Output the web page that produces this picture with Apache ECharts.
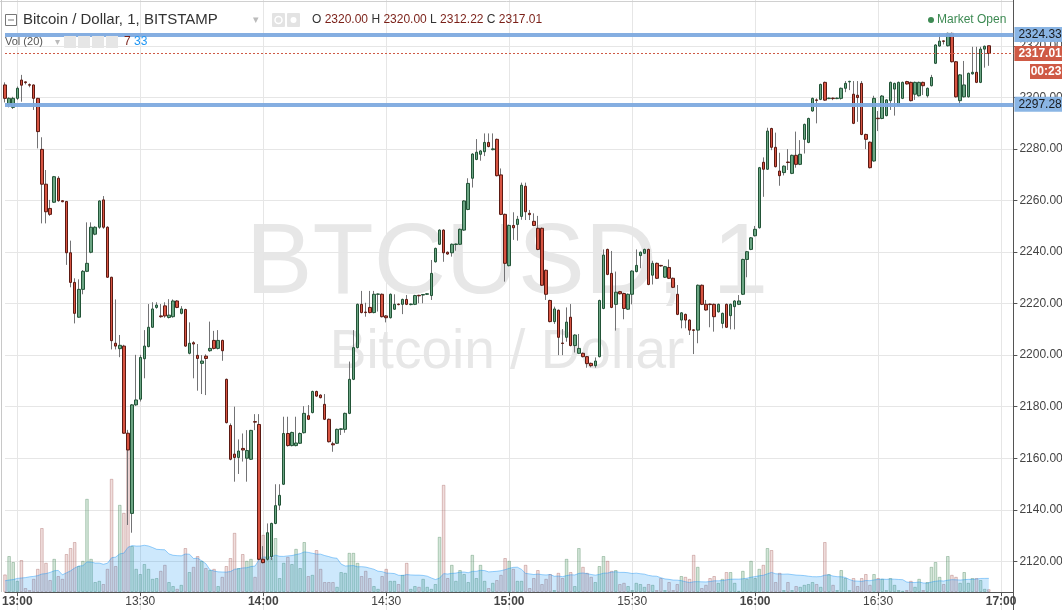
<!DOCTYPE html>
<html><head><meta charset="utf-8">
<script src="https://cdn.jsdelivr.net/npm/echarts@6/dist/echarts.min.js"></script>
<style>html,body{margin:0;padding:0;background:#fff}#c{width:1062px;height:610px}</style>
</head><body><div id="c"></div>
<script>
// ---- data (1-minute candles, BTC/USD Bitstamp, 12:57 -> 16:57) ----
const startMinute = 12 * 60 + 57;   // first candle 12:57
const slotCount = 247;              // axis slots incl. empty space on the right
const tickTimes = ['13:00','13:30','14:00','14:30','15:00','15:30','16:00','16:30','17:00'];
const priceTicks = [2100, 2340, 20]; // min, max, step of the price axis

const open = [
2304.8,2297.3,2296.1,2299.6,2306.7,2306.0,2304.9,2304.8,2299.6,2279.8,
2266.3,2256.9,2259.3,2268.6,2259.9,2259.6,2239.7,2228.2,2214.7,2225.5,
2232.5,2239.9,2246.9,2249.6,2260.2,2249.6,2230.2,2204.6,2202.5,2203.5,
2169.7,2138.6,2180.7,2182.9,2198.6,2203.3,2210.8,2218.5,2215.2,2219.1,
2214.6,2214.9,2221.0,2216.2,2217.7,2200.7,2204.8,2199.9,2196.8,2199.6,
2201.7,2205.7,2202.6,2205.7,2190.6,2172.7,2161.6,2160.3,2163.8,2160.0,
2159.6,2174.2,2173.1,2120.8,2120.8,2121.8,2134.7,2141.8,2149.9,2169.6,
2164.9,2164.9,2165.8,2169.9,2176.5,2177.7,2185.9,2184.5,2180.9,2175.1,
2165.6,2165.8,2171.2,2171.2,2177.4,2190.6,2202.9,2219.7,2216.7,2218.5,
2216.5,2223.6,2223.6,2215.2,2214.5,2217.8,2219.8,2219.7,2221.6,2219.6,
2219.7,2223.2,2223.3,2223.6,2223.1,2236.2,2243.0,2248.5,2239.9,2239.7,
2242.9,2243.0,2248.5,2256.5,2268.6,2275.9,2277.9,2278.9,2282.5,2279.7,
2283.7,2269.9,2254.6,2234.7,2250.3,2250.7,2253.8,2265.5,2255.0,2251.9,
2249.2,2249.2,2232.9,2221.2,2213.0,2217.4,2204.7,2206.9,2214.7,2203.7,
2200.7,2200.7,2199.4,2196.8,2195.9,2199.4,2218.1,2241.0,2231.7,2219.7,
2224.6,2223.9,2217.8,2223.6,2232.4,2238.6,2239.5,2241.0,2231.0,2235.6,
2234.8,2230.2,2234.0,2229.8,2223.6,2213.6,2215.8,2213.6,2209.8,2209.7,
2227.1,2219.7,2219.8,2219.7,2216.8,2212.3,2219.7,2215.3,2218.8,2219.7,
2223.6,2237.1,2241.0,2246.3,2249.4,2274.8,2272.1,2287.9,2280.6,2271.4,
2270.8,2274.9,2270.5,2277.5,2274.0,2283.7,2282.5,2294.7,2299.0,2299.2,
2305.8,2299.5,2299.7,2299.5,2299.6,2303.5,2306.0,2301.2,2300.8,2305.4,
2285.6,2282.6,2275.3,2291.9,2291.8,2292.9,2298.7,2303.2,2296.8,2299.6,
2306.1,2305.8,2301.2,2300.6,2305.8,2300.6,2304.5,2313.2,2319.9,2321.9,
2320.0,2324.8,2313.8,2298.7,2300.2,2300.2,2309.1,2309.7,2305.8,2318.7,2320.00];

const close = [
2299.6,2299.6,2299.6,2303.5,2304.7,2305.7,2304.7,2299.6,2286.7,2266.3,
2255.6,2254.6,2269.2,2259.9,2259.5,2239.7,2228.2,2216.2,2225.5,2232.5,
2235.6,2249.6,2249.6,2259.8,2249.6,2230.2,2205.6,2203.5,2203.8,2169.7,
2163.2,2180.7,2182.6,2199.1,2203.5,2210.8,2217.9,2219.4,2214.9,2215.2,
2215.5,2221.0,2218.5,2217.9,2203.5,2204.6,2204.3,2198.7,2197.7,2198.7,
2202.6,2202.6,2205.7,2201.7,2173.8,2159.6,2160.3,2162.8,2163.2,2163.0,
2170.8,2174.0,2120.8,2119.5,2131.1,2134.7,2141.6,2145.6,2169.6,2164.9,
2170.0,2165.9,2169.6,2177.4,2175.1,2185.9,2184.1,2183.5,2175.1,2166.4,
2165.2,2171.2,2171.4,2177.4,2190.6,2202.9,2219.7,2216.5,2216.5,2216.5,
2223.6,2223.7,2214.9,2214.5,2223.6,2219.7,2219.6,2221.6,2219.7,2219.8,
2223.1,2223.0,2223.5,2223.8,2231.7,2241.4,2248.5,2239.7,2239.2,2243.0,
2243.1,2248.8,2259.8,2266.6,2278.0,2278.7,2279.2,2282.5,2280.9,2280.0,
2269.6,2254.6,2235.6,2250.3,2249.4,2252.7,2265.9,2255.6,2254.5,2250.3,
2241.0,2227.1,2223.6,2213.0,2217.9,2206.9,2204.5,2212.8,2203.7,2207.8,
2202.6,2199.4,2196.7,2195.9,2197.7,2221.2,2238.8,2231.3,2218.5,2224.4,
2223.8,2218.1,2223.6,2232.6,2234.8,2239.9,2241.0,2227.4,2235.6,2229.8,
2234.6,2234.3,2229.8,2226.3,2215.8,2216.4,2213.6,2209.7,2209.6,2227.1,
2219.7,2217.5,2219.6,2214.9,2219.7,2216.2,2210.8,2219.7,2221.0,2221.0,
2237.1,2240.1,2245.5,2248.8,2272.7,2272.1,2286.9,2280.6,2273.1,2269.6,
2273.3,2274.7,2277.5,2274.0,2277.9,2289.5,2291.8,2299.6,2298.8,2305.0,
2298.9,2299.7,2299.5,2299.7,2303.5,2305.4,2306.2,2289.9,2299.9,2285.6,
2283.7,2272.7,2299.6,2291.7,2300.5,2299.0,2305.8,2305.4,2305.8,2305.8,
2305.2,2298.7,2305.8,2305.8,2304.5,2303.5,2307.7,2320.3,2321.8,2321.7,
2324.8,2313.8,2300.2,2308.7,2304.8,2309.3,2309.7,2305.8,2318.7,2319.8,2317.01];

const high = [
2305.8,2300.0,2300.2,2304.2,2308.7,2306.1,2305.4,2305.0,2299.8,2284.5,
2271.8,2260.2,2269.5,2269.4,2260.0,2259.8,2244.4,2229.8,2229.4,2233.0,
2251.5,2251.5,2250.0,2260.0,2261.7,2250.0,2230.4,2221.6,2207.8,2204.0,
2171.0,2181.0,2200.1,2200.1,2209.7,2219.8,2220.5,2220.5,2219.8,2220.5,
2221.7,2221.6,2221.3,2219.0,2218.0,2212.7,2205.4,2204.3,2200.0,2200.3,
2213.0,2209.4,2209.7,2206.0,2190.9,2173.5,2180.0,2167.3,2169.6,2170.9,
2171.0,2177.1,2177.1,2125.9,2134.7,2135.0,2149.9,2149.9,2176.1,2176.1,
2170.3,2176.1,2170.0,2180.2,2180.6,2186.2,2186.2,2184.8,2184.9,2175.4,
2166.4,2171.5,2171.6,2177.7,2197.5,2209.7,2220.0,2224.9,2220.3,2224.9,
2224.9,2223.9,2223.9,2215.5,2223.9,2223.6,2220.0,2221.9,2223.3,2220.0,
2223.4,2223.4,2223.7,2224.0,2236.9,2241.7,2248.8,2248.8,2240.2,2243.3,
2243.3,2249.1,2260.1,2268.6,2278.3,2283.8,2279.5,2286.0,2286.0,2286.0,
2284.0,2272.4,2254.9,2250.6,2255.4,2254.0,2266.9,2266.9,2256.3,2255.0,
2254.0,2249.5,2233.2,2221.5,2218.8,2217.7,2210.1,2218.5,2219.8,2208.1,
2208.2,2201.0,2199.7,2197.1,2199.1,2221.5,2241.0,2241.3,2240.4,2232.4,
2224.9,2224.2,2223.9,2232.9,2241.0,2240.2,2241.3,2241.3,2236.6,2235.9,
2235.0,2234.6,2237.1,2230.1,2227.2,2216.7,2216.1,2213.9,2210.0,2227.4,
2227.4,2221.4,2220.0,2220.0,2220.0,2216.5,2220.0,2220.0,2221.3,2223.3,
2237.4,2240.4,2245.8,2250.1,2273.0,2276.7,2288.2,2288.2,2286.3,2278.5,
2273.6,2279.9,2277.8,2286.7,2283.4,2289.8,2292.1,2299.9,2299.6,2305.3,
2306.1,2299.9,2299.9,2299.9,2303.8,2306.3,2306.4,2306.3,2306.3,2306.3,
2285.9,2282.9,2300.6,2294.7,2300.9,2299.3,2306.1,2305.7,2306.1,2306.1,
2306.4,2306.1,2306.1,2306.1,2306.1,2303.8,2308.7,2320.6,2324.8,2322.0,
2325.1,2325.1,2314.1,2309.0,2314.1,2309.6,2319.6,2319.6,2319.6,2320.1,2320.00];

const low = [
2298.0,2296.1,2295.5,2299.0,2298.3,2305.0,2303.9,2295.1,2280.2,2251.1,
2251.1,2254.0,2259.0,2259.5,2259.3,2235.0,2226.3,2212.3,2214.5,2223.6,
2232.2,2239.5,2246.5,2249.0,2249.0,2230.0,2202.2,2202.2,2199.2,2169.5,
2134.1,2131.1,2180.3,2182.0,2191.0,2203.0,2210.5,2218.0,2214.5,2214.5,
2214.2,2214.5,2218.2,2215.8,2203.2,2200.3,2191.0,2186.2,2184.9,2184.5,
2201.3,2202.2,2202.2,2197.8,2173.5,2159.2,2150.9,2153.9,2158.7,2150.9,
2159.3,2170.9,2120.5,2119.2,2120.3,2120.5,2134.4,2139.9,2149.6,2164.5,
2164.6,2164.6,2165.5,2169.6,2174.8,2177.4,2183.8,2183.2,2174.8,2166.1,
2162.5,2165.5,2169.0,2169.9,2177.1,2190.3,2202.6,2216.2,2214.9,2216.2,
2216.2,2216.9,2214.6,2212.7,2214.2,2217.5,2219.3,2215.9,2219.4,2219.3,
2219.4,2220.1,2220.1,2223.3,2221.4,2235.9,2242.7,2236.2,2238.9,2238.2,
2240.5,2242.7,2248.2,2256.2,2265.0,2275.6,2275.4,2277.2,2280.6,2279.4,
2269.3,2254.3,2228.5,2234.4,2244.7,2244.4,2252.5,2252.4,2252.4,2250.0,
2240.7,2226.8,2221.4,2212.7,2212.1,2200.0,2200.0,2205.2,2203.4,2201.0,
2200.4,2199.1,2195.1,2195.3,2195.1,2199.1,2217.8,2231.0,2218.2,2209.5,
2223.5,2213.9,2217.5,2219.7,2232.1,2233.7,2239.2,2227.1,2227.4,2229.5,
2234.3,2229.9,2229.5,2226.0,2215.5,2210.4,2210.4,2207.8,2200.4,2204.6,
2219.4,2217.2,2210.8,2209.1,2216.5,2210.4,2210.5,2210.0,2210.0,2219.4,
2223.3,2230.2,2240.7,2246.0,2249.1,2261.4,2271.8,2279.5,2272.8,2265.7,
2269.7,2271.8,2270.2,2272.7,2273.7,2278.2,2282.2,2294.4,2289.9,2298.9,
2298.6,2299.3,2298.9,2299.3,2299.1,2302.0,2302.8,2289.6,2290.5,2285.3,
2279.9,2272.4,2275.0,2286.9,2291.5,2292.6,2295.1,2292.9,2296.5,2299.3,
2304.9,2298.4,2299.0,2300.3,2300.9,2299.9,2304.2,2312.9,2319.6,2320.5,
2319.7,2313.5,2299.9,2296.8,2299.9,2299.9,2308.8,2305.5,2305.5,2311.5,2312.22];

const volume = [
44,90,75,28,80,10,5,33,58,160,
73,30,83,40,33,95,110,125,65,78,
233,83,25,28,20,58,283,65,218,198,
365,115,58,45,70,58,33,35,53,68,
25,15,8,18,110,50,63,90,78,60,
55,58,15,38,65,85,148,60,95,78,
83,38,340,143,90,85,135,35,73,88,
70,108,60,125,40,43,105,58,25,25,
25,13,50,48,98,98,73,40,53,35,
15,8,40,58,28,28,20,43,73,8,
15,13,33,13,8,20,138,268,35,68,
28,55,45,25,93,35,68,28,10,23,
30,43,85,78,58,28,28,68,10,35,
55,20,33,45,5,48,35,83,50,15,
110,63,48,38,25,65,90,78,53,55,
20,23,15,5,23,20,13,20,18,5,
35,5,25,5,20,40,38,33,93,63,
10,18,35,40,23,33,50,50,23,3,
53,33,78,35,58,68,110,105,25,48,
5,25,5,15,13,18,20,25,20,13,
125,45,18,5,55,35,5,35,15,35,
45,18,45,35,33,5,35,18,5,3,
5,28,13,33,5,25,63,75,38,20,
90,43,38,23,50,23,35,35,30,8,7];

// Vol MA(20) for the first 19 minutes (window reaches before the visible range)
const volMaHead = [28,30,31,34,35,36,38,39,41,45,46,49,53,54,43,48,53,60,65];
const maPeriod = 20;

const levelLines = [2324.33, 2297.28];
const lastPrice = 2317.01;
const countdown = '00:23';

// ---- build ----
const categories = [];
for (let k = 0; k < slotCount; k++) {
  const m = startMinute + k;
  categories.push(String(Math.floor(m / 60)).padStart(2, '0') + ':' + String(m % 60).padStart(2, '0'));
}
const wickData = open.map((o, i) => [o, close[i], low[i], high[i]]);
const bodyData = open.map((o, i) => [o, close[i], Math.min(o, close[i]), Math.max(o, close[i])]);
const volData = volume.map((v, i) => ({
  value: v,
  itemStyle: close[i] >= open[i]
    ? { color: 'rgba(107,170,125,0.3)', borderColor: 'rgba(70,130,85,0.35)', borderWidth: 1 }
    : { color: 'rgba(185,105,100,0.22)', borderColor: 'rgba(160,90,85,0.35)', borderWidth: 1 }
}));
const volMa = volume.map((v, i) => {
  if (i < maPeriod - 1) return volMaHead[i];
  let s = 0; for (let k = i - maPeriod + 1; k <= i; k++) s += volume[k];
  return +(s / maPeriod).toFixed(1);
});
const isTick = (idx, val) => tickTimes.indexOf(val) >= 0;
const FONT = "'Liberation Sans', Arial, sans-serif";

const chart = echarts.init(document.getElementById('c'), null, { renderer: 'canvas', width: 1062, height: 610 });

const graphics = [
  // watermark
  { type: 'text', x: 507, y: 265, z: 0, silent: true,
    style: { text: 'BTCUSD, 1', fill: '#e7e7e7', font: '100px ' + FONT, align: 'center', verticalAlign: 'middle' } },
  { type: 'text', x: 507, y: 353, z: 0, silent: true,
    style: { text: 'Bitcoin / Dollar', fill: '#e7e7e7', font: '55px ' + FONT, align: 'center', verticalAlign: 'middle' } },
  // panel borders
  { type: 'line', z: 5, shape: { x1: 0, y1: 1.5, x2: 1013, y2: 1.5 }, style: { stroke: '#d0d0d0', lineWidth: 1 } },
  { type: 'line', z: 5, shape: { x1: 1.5, y1: 0, x2: 1.5, y2: 592 }, style: { stroke: '#c8c8c8', lineWidth: 1 } },
  // header line 1
  { type: 'rect', z: 20, shape: { x: 5.5, y: 14.5, width: 11, height: 11 }, style: { fill: '#fff', stroke: '#777', lineWidth: 1 } },
  { type: 'line', z: 21, shape: { x1: 8, y1: 20, x2: 14, y2: 20 }, style: { stroke: '#777', lineWidth: 1 } },
  { type: 'text', x: 23, y: 20, z: 20, style: { text: 'Bitcoin / Dollar, 1, BITSTAMP', fill: '#333', font: '15px ' + FONT, verticalAlign: 'middle' } },
  { type: 'text', x: 253, y: 20, z: 20, style: { text: '▾', fill: '#bbb', font: '11px ' + FONT, verticalAlign: 'middle' } },
  { type: 'rect', z: 20, shape: { x: 272, y: 13, width: 13, height: 14, r: 1 }, style: { fill: '#e3e3e3' } },
  { type: 'circle', z: 21, shape: { cx: 278.5, cy: 20, r: 3.5 }, style: { fill: 'none', stroke: '#fff', lineWidth: 1.5 } },
  { type: 'rect', z: 20, shape: { x: 287, y: 13, width: 13, height: 14, r: 1 }, style: { fill: '#e3e3e3' } },
  { type: 'circle', z: 21, shape: { cx: 293.5, cy: 20, r: 3 }, style: { fill: '#fff' } },
  { type: 'text', x: 312, y: 20, z: 20, style: {
      text: '{l|O} {v|2320.00} {l|H} {v|2320.00} {l|L} {v|2312.22} {l|C} {v|2317.01}',
      verticalAlign: 'middle', font: '12px ' + FONT,
      rich: { l: { fill: '#333', font: '12px ' + FONT }, v: { fill: '#7a1f17', font: '12px ' + FONT } } } },
  { type: 'circle', z: 20, shape: { cx: 931, cy: 20, r: 3 }, style: { fill: '#3d8a53' } },
  { type: 'text', x: 937, y: 20, z: 20, style: { text: 'Market Open', fill: '#3d8a53', font: '12px ' + FONT, verticalAlign: 'middle' } },
  // header line 2 (volume)
  { type: 'text', x: 5, y: 42, z: 20, style: { text: 'Vol (20)', fill: '#555', font: '11px ' + FONT, verticalAlign: 'middle' } },
  { type: 'text', x: 55, y: 42, z: 20, style: { text: '▾', fill: '#bbb', font: '10px ' + FONT, verticalAlign: 'middle' } },
  { type: 'rect', z: 20, shape: { x: 64, y: 36, width: 12, height: 12 }, style: { fill: '#e6e6e6' } },
  { type: 'rect', z: 20, shape: { x: 78, y: 36, width: 12, height: 12 }, style: { fill: '#e6e6e6' } },
  { type: 'rect', z: 20, shape: { x: 92, y: 36, width: 12, height: 12 }, style: { fill: '#e6e6e6' } },
  { type: 'rect', z: 20, shape: { x: 106, y: 36, width: 12, height: 12 }, style: { fill: '#e6e6e6' } },
  { type: 'text', x: 124, y: 42, z: 20, style: {
      text: '{a|7} {b|33}', verticalAlign: 'middle', font: '12px ' + FONT,
      rich: { a: { fill: '#7a1f17', font: '12px ' + FONT }, b: { fill: '#2196f3', font: '12px ' + FONT } } } },
  // countdown tag
  { type: 'rect', z: 30, shape: { x: 1030, y: 64, width: 32, height: 15 }, style: { fill: '#cf5a45' } },
  { type: 'text', x: 1046, y: 71.5, z: 31, style: { text: countdown, fill: '#fff', font: 'bold 12px ' + FONT, align: 'center', verticalAlign: 'middle' } }
];

const gridSide = { left: 5, right: 48.6, containLabel: false, outerBoundsMode: 'none' };

const option = {
  animation: false,
  backgroundColor: '#fff',
  textStyle: { fontFamily: FONT },
  grid: [
    Object.assign({ top: -5.8, height: 618.7 }, gridSide),
    Object.assign({ top: 392, height: 200 }, gridSide)
  ],
  xAxis: [
    { type: 'category', gridIndex: 0, data: categories, boundaryGap: false,
      axisLine: { show: false }, axisTick: { show: false }, axisLabel: { show: false },
      splitLine: { show: true, interval: isTick, lineStyle: { color: '#e6e6e6', width: 1 } } },
    { type: 'category', gridIndex: 1, data: categories, boundaryGap: false,
      axisLine: { show: true, lineStyle: { color: '#555', width: 1 } },
      axisTick: { show: true, interval: isTick, length: 4, lineStyle: { color: '#555' } },
      axisLabel: { show: true, interval: isTick, margin: 4, color: '#444', fontSize: 12, fontFamily: FONT,
        formatter: v => v.endsWith(':00') ? '{b|' + v + '}' : '{n|' + v + '}',
        rich: { b: { fontWeight: 'bold', fontSize: 12, color: '#444', fontFamily: FONT },
                n: { fontSize: 12, color: '#444', fontFamily: FONT } } },
      splitLine: { show: false } }
  ],
  yAxis: [
    { type: 'value', gridIndex: 0, position: 'right', min: priceTicks[0], max: priceTicks[1], interval: priceTicks[2],
      axisLine: { show: true, lineStyle: { color: '#555', width: 1 } },
      axisTick: { show: true, length: 4, lineStyle: { color: '#555' } },
      axisLabel: { show: true, margin: 6, color: '#444', fontSize: 12, fontFamily: FONT, formatter: v => v.toFixed(2),
                   showMinLabel: false, showMaxLabel: false },
      splitLine: { show: true, lineStyle: { color: '#e6e6e6', width: 1 } } },
    { type: 'value', gridIndex: 1, min: 0, max: 500, show: false, splitLine: { show: false } }
  ],
  graphic: { elements: graphics },
  series: [
    { type: 'bar', name: 'Volume', xAxisIndex: 1, yAxisIndex: 1, data: volData, barWidth: 3.6, z: 1, silent: true },
    { type: 'line', name: 'Vol MA', xAxisIndex: 1, yAxisIndex: 1, data: volMa, symbol: 'none', z: 1.5, silent: true,
      lineStyle: { color: 'rgba(33,150,243,0.45)', width: 1 }, areaStyle: { color: 'rgba(33,150,243,0.32)' } },
    { type: 'candlestick', name: 'wick', xAxisIndex: 0, yAxisIndex: 0, data: wickData, barWidth: 0.1, clip: false, z: 3, silent: true,
      itemStyle: { color: '#737375', color0: '#737375', borderColor: '#737375', borderColor0: '#737375', borderWidth: 1 } },
    { type: 'candlestick', name: 'BTCUSD', xAxisIndex: 0, yAxisIndex: 0, data: bodyData, barWidth: 3, clip: false, z: 4, silent: true,
      itemStyle: { color: '#6ba583', color0: '#d75442', borderColor: '#225437', borderColor0: '#5b1a13', borderWidth: 1 },
      markLine: {
        silent: true, symbol: ['none', 'none'], animation: false, z: 6,
        data: levelLines.map(v => ({
          yAxis: v,
          lineStyle: { color: '#7eaadf', width: 4, type: 'solid', opacity: 0.95 },
          label: { show: true, position: 'end', distance: 1, formatter: v.toFixed(2), color: '#111',
                   backgroundColor: '#84b1e3', padding: [2, 3, 1, 4], fontSize: 12, fontFamily: FONT }
        })).concat([{
          yAxis: lastPrice,
          lineStyle: { color: '#cf5a45', width: 1, type: [2, 2] },
          label: { show: true, position: 'end', distance: 1, formatter: lastPrice.toFixed(2), color: '#fff',
                   backgroundColor: '#cf5a45', padding: [2, 3, 1, 4], fontSize: 12, fontWeight: 'bold', fontFamily: FONT }
        }])
      } }
  ]
};
chart.setOption(option);
</script>
</body></html>
